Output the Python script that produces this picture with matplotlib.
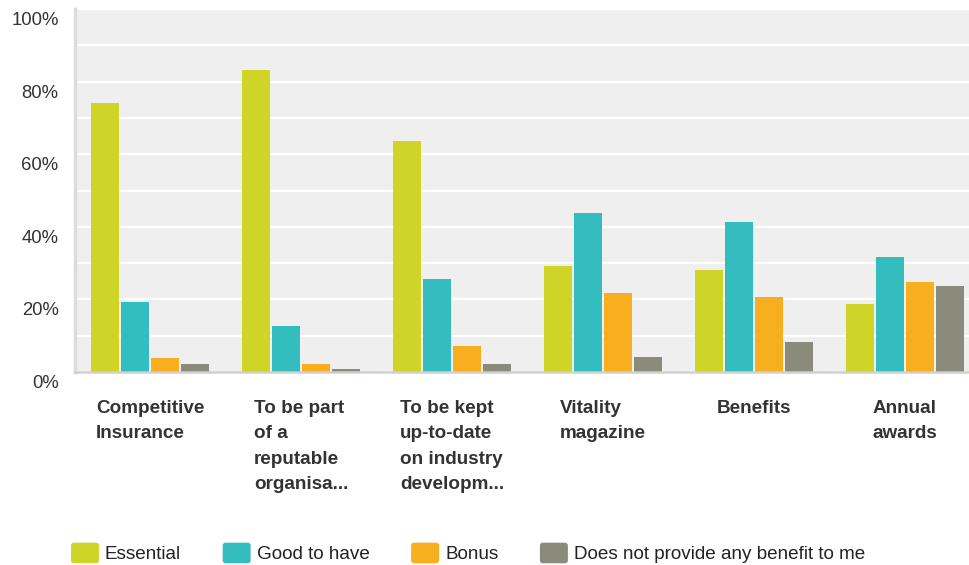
import numpy as np
import matplotlib
matplotlib.use("Agg")
import matplotlib.pyplot as plt
import matplotlib.transforms as mtransforms
from matplotlib.patches import Patch, FancyBboxPatch
from matplotlib.legend_handler import HandlerPatch

plt.rcParams["font.family"] = ["Liberation Sans", "DejaVu Sans"]

# Dados (percentual de respostas)
categorias = ["Competitive\nInsurance",
              "To be part\nof a\nreputable\norganisa...",
              "To be kept\nup-to-date\non industry\ndevelopm...",
              "Vitality\nmagazine",
              "Benefits",
              "Annual\nawards"]
series = ["Essential", "Good to have", "Bonus",
          "Does not provide any benefit to me"]
essential = [74.1, 83.2, 63.6, 29.2, 28.1, 18.7]
good_to_have = [19.3, 12.8, 25.6, 43.8, 41.3, 31.7]
bonus = [3.9, 2.3, 7.2, 21.8, 20.7, 24.8]
no_benefit = [2.3, 0.8, 2.2, 4.1, 8.3, 23.7]
yticks = [0, 20, 40, 60, 80, 100]

cores = ["#CFD427", "#33BDBF", "#F7AE1F", "#8B8B7B"]
valores = [essential, good_to_have, bonus, no_benefit]


# Legenda com quadrados arredondados
class HandlerArredondado(HandlerPatch):
    def create_artists(self, legend, orig_handle, xdescent, ydescent,
                       width, height, fontsize, trans):
        r = 2.0
        p = FancyBboxPatch((-xdescent + r, -ydescent + r), width - 2 * r,
                           height - 2 * r, boxstyle="round,pad=%s" % r,
                           facecolor=orig_handle.get_facecolor(),
                           edgecolor="none", transform=trans)
        return [p]


fig = plt.figure(figsize=(9.69, 5.65), dpi=100)
W, H = 969.0, 565.0
ax = fig.add_axes([74.5 / W, 1 - 372 / H, 906 / W, 363 / H])
ax.set_facecolor("#EFEFEF")

x = np.arange(len(categorias))
offsets = [-0.3, -0.1, 0.1, 0.3]
for vals, off, cor, nome in zip(valores, offsets, cores, series):
    ax.bar(x + off, vals, width=0.185, color=cor, label=nome, zorder=3)

ax.set_xlim(-0.5, len(categorias) - 0.5)
ax.set_ylim(0, 100)
ax.set_yticks(yticks)
ax.set_yticklabels(["%d%%" % v for v in yticks])
ax.set_yticks(np.arange(10, 100, 10), minor=True)
ax.yaxis.grid(True, which="both", color="white", linewidth=1.6, zorder=1)
ax.set_axisbelow(True)

ax.tick_params(axis="y", which="both", length=0, pad=11.5,
               labelsize=13.3, labelcolor="#333333")
ax.tick_params(axis="x", length=0, pad=20, labelsize=13.6,
               labelcolor="#333333")
ax.set_xticks(x)
ax.set_xticklabels(categorias, fontweight="bold")
for lbl in ax.get_xticklabels():
    lbl.set_multialignment("left")
    lbl.set_linespacing(1.65)

# rotulos do eixo y ficam um pouco abaixo das linhas
desloc = mtransforms.ScaledTranslation(0, -9.5 / 100, fig.dpi_scale_trans)
for lbl in ax.get_yticklabels():
    lbl.set_transform(lbl.get_transform() + desloc)

for s in ["top", "right"]:
    ax.spines[s].set_visible(False)
ax.spines["left"].set_color("#DCDCDC")
ax.spines["left"].set_linewidth(2.5)
ax.spines["bottom"].set_color("#D0D0D0")
ax.spines["bottom"].set_linewidth(1.8)
ax.spines["bottom"].set_zorder(4)

handles = [Patch(facecolor=c) for c in cores]
fig.legend(handles, series, loc="center left",
           bbox_to_anchor=(71 / W, 1 - 553 / H), ncol=4, frameon=False,
           fontsize=13.6, borderpad=0, borderaxespad=0,
           handlelength=1.48, handleheight=1.3, handletextpad=0.32,
           columnspacing=2.2,
           handler_map={Patch: HandlerArredondado()})
for t in fig.legends[0].get_texts():
    t.set_color("#222222")

fig.savefig("out.png", dpi=100)
